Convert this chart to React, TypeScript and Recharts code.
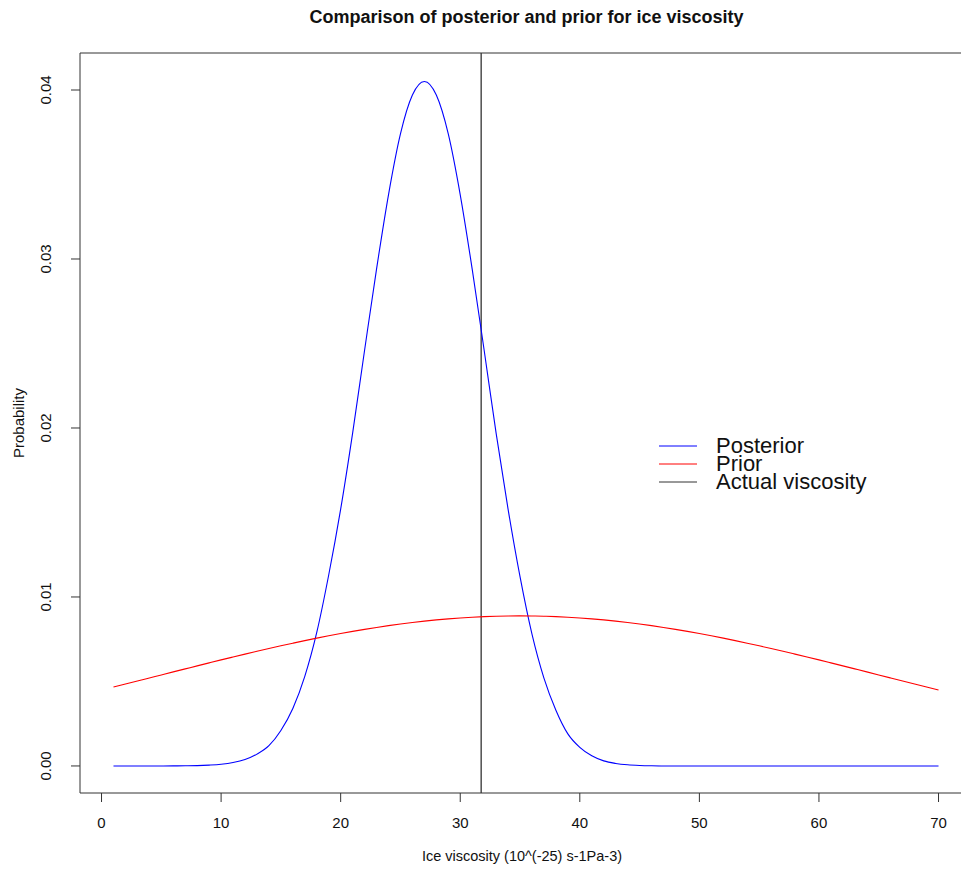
import { LineChart, Line, XAxis, YAxis, ReferenceLine, Legend } from 'recharts'

// ice viscosity grid, 10^(-25) s-1Pa-3
const viscosity = [
  1, 2, 3, 4, 5, 6, 7, 8, 9, 10, 11, 12, 13, 14, 15, 16, 17, 18, 19, 20,
  21, 22, 23, 24, 25, 26, 27, 28, 29, 30, 31, 32, 33, 34, 35, 36, 37, 38, 39, 40,
  41, 42, 43, 44, 45, 46, 47, 48, 49, 50, 51, 52, 53, 54, 55, 56, 57, 58, 59, 60,
  61, 62, 63, 64, 65, 66, 67, 68, 69, 70,
]

const posterior = [
  0, 0, 0, 0, 0, 0.000005, 0.00001, 0.00002, 0.00005, 0.0001,
  0.0002, 0.00038, 0.0007, 0.0012, 0.0021, 0.0034, 0.0053, 0.0079, 0.0113, 0.0152,
  0.0197, 0.0246, 0.0294, 0.0338, 0.0374, 0.0397, 0.0405, 0.0397, 0.0374, 0.0338,
  0.0294, 0.0246, 0.0197, 0.0152, 0.0112, 0.0078, 0.0052, 0.0033, 0.0019, 0.0011,
  0.0006, 0.0003, 0.00015, 0.00007, 0.00003, 0.00001, 0, 0, 0, 0,
  0, 0, 0, 0, 0, 0, 0, 0, 0, 0,
  0, 0, 0, 0, 0, 0, 0, 0, 0, 0,
]

const prior = [
  0.004673, 0.004849, 0.005027, 0.005206, 0.005386, 0.005566, 0.005745, 0.005923, 0.0061, 0.006276,
  0.006448, 0.006618, 0.006786, 0.00695, 0.00711, 0.007266, 0.007418, 0.007563, 0.007703, 0.007837,
  0.007964, 0.008084, 0.008197, 0.008303, 0.0084, 0.008489, 0.00857, 0.008642, 0.008704, 0.008758,
  0.008801, 0.008836, 0.00886, 0.008875, 0.00888, 0.008875, 0.00886, 0.008836, 0.008801, 0.008758,
  0.008704, 0.008642, 0.00857, 0.008489, 0.0084, 0.008303, 0.008197, 0.008084, 0.007964, 0.007837,
  0.007703, 0.007563, 0.007418, 0.007266, 0.00711, 0.00695, 0.006786, 0.006618, 0.006448, 0.006276,
  0.0061, 0.005923, 0.005745, 0.005566, 0.005386, 0.005206, 0.005027, 0.004849, 0.004673, 0.0045,
]

const actualViscosity = 31.75

const xTicks = [0, 10, 20, 30, 40, 50, 60, 70]
const yTicks = [0, 0.01, 0.02, 0.03, 0.04]

const legendItems = [
  { label: 'Posterior', color: 'blue' },
  { label: 'Prior', color: 'red' },
  { label: 'Actual viscosity', color: '#333' },
]

const data = viscosity.map((v, i) => ({ v, posterior: posterior[i], prior: prior[i] }))

const FONT = '"Liberation Sans", Arial, Helvetica, sans-serif'

const XTick = ({ x, y, payload }: any) => (
  <text x={x} y={y + 26} textAnchor="middle" fontSize={15} fontFamily={FONT} fill="#111">
    {payload.value}
  </text>
)

const YTick = ({ x, y, payload }: any) => (
  <text
    x={x - 20}
    y={y}
    transform={`rotate(-90, ${x - 20}, ${y})`}
    textAnchor="middle"
    fontSize={15}
    fontFamily={FONT}
    fill="#111"
  >
    {payload.value.toFixed(2)}
  </text>
)

const LegendBox = () => (
  <div style={{ fontFamily: FONT }}>
    {legendItems.map((it) => (
      <div key={it.label} style={{ display: 'flex', alignItems: 'center', height: 18 }}>
        <svg width={38} height={18} style={{ display: 'block' }}>
          <line x1={0} x2={38} y1={9} y2={9} stroke={it.color} strokeWidth={1} />
        </svg>
        <span style={{ marginLeft: 19, fontSize: 22, lineHeight: '18px', color: '#111' }}>{it.label}</span>
      </div>
    ))}
  </div>
)

export default function App() {
  return (
    <div style={{ position: 'relative', width: 961, height: 871, background: '#fff', fontFamily: FONT }}>
      <style>{'body{margin:0}'}</style>
      <div
        style={{
          position: 'absolute', top: 7, left: 0, width: 1053, textAlign: 'center',
          fontSize: 18, fontWeight: 'bold', color: '#111',
        }}
      >
        Comparison of posterior and prior for ice viscosity
      </div>
      <LineChart width={961} height={871} data={data} margin={{ top: 53, right: 0, left: 0, bottom: 0 }}>
        <XAxis
          dataKey="v"
          type="number"
          domain={[-1.8, 71.88]}
          allowDataOverflow
          ticks={xTicks}
          interval={0}
          height={78}
          tickSize={9}
          tickMargin={0}
          tick={<XTick />}
          stroke="#333"
          tickLine={{ stroke: '#333' }}
        />
        <YAxis
          type="number"
          domain={[-0.0016, 0.04219]}
          allowDataOverflow
          ticks={yTicks}
          interval={0}
          width={80}
          tickSize={9}
          tickMargin={0}
          tick={<YTick />}
          stroke="#333"
          tickLine={{ stroke: '#333' }}
        />
        <ReferenceLine y={0.04219} stroke="#333" strokeWidth={1} />
        <ReferenceLine x={actualViscosity} stroke="#333" strokeWidth={1.3} />
        <Line type="monotone" dataKey="posterior" stroke="blue" strokeWidth={1.1} dot={false} isAnimationActive={false} name="Posterior" />
        <Line type="monotone" dataKey="prior" stroke="red" strokeWidth={1.1} dot={false} isAnimationActive={false} name="Prior" />
        <Legend
          layout="vertical"
          align="center"
          verticalAlign="middle"
          wrapperStyle={{ left: 659, top: 437, width: 'auto' }}
          content={() => <LegendBox />}
        />
      </LineChart>
      <div
        style={{
          position: 'absolute', top: 848, left: 0, width: 1044, textAlign: 'center',
          fontSize: 14.5, color: '#111',
        }}
      >
        Ice viscosity (10^(-25) s-1Pa-3)
      </div>
      <div
        style={{
          position: 'absolute', left: 18, top: 423, transform: 'translate(-50%, -50%) rotate(-90deg)',
          fontSize: 15, color: '#111', whiteSpace: 'nowrap',
        }}
      >
        Probability
      </div>
    </div>
  )
}
